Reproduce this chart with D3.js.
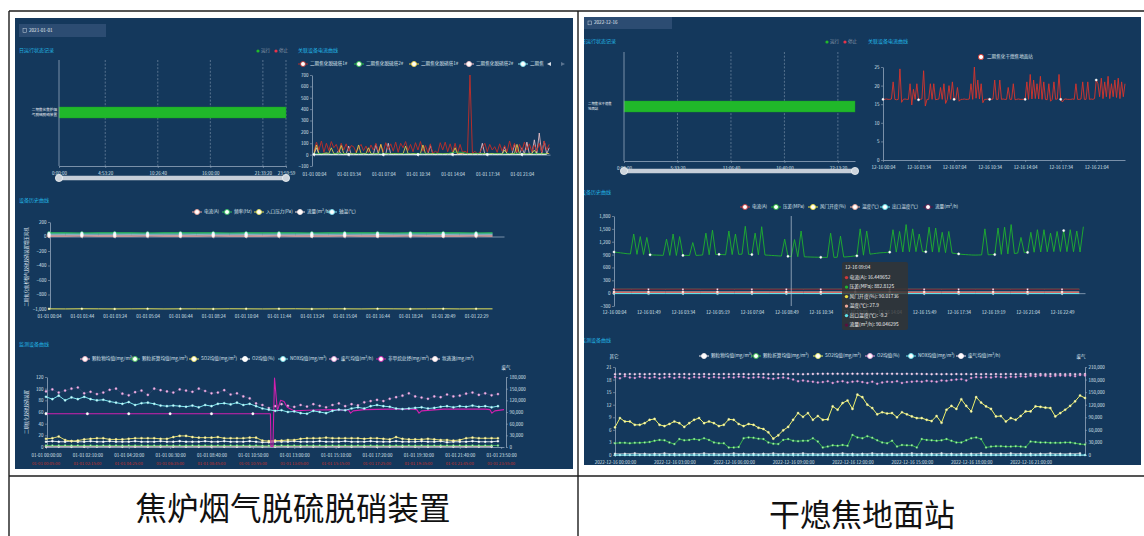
<!DOCTYPE html>
<html><head><meta charset="utf-8">
<script src="https://cdn.jsdelivr.net/npm/d3@7/dist/d3.min.js"></script>
<style>html,body{margin:0;padding:0;background:#fff;}svg{display:block}</style>
</head><body>
<svg id="c" width="1144" height="536"></svg>
<script>
// ================= DATA =================
const runLegend = ['运行','停止'];
const runColors = ['#22b82a','#e8334a'];

// ---------- Left block: 焦炉烟气脱硫脱硝装置 ----------
const L_caption = '焦炉烟气脱硫脱硝装置';
const L_date = '2021-01-01';
const L_titles = ['日运行状态记录','关联设备电流曲线','设备历史曲线','监测设备曲线'];
const L_ganttName = ['二期焦化焦炉烟','气脱硫脱硝装置'];
const L_ganttTickSec = [0,17600,37600,57600,77600,86399];
const L_ganttTickLab = ['0:00:00','4:53:20','10:26:40','16:00:00','21:33:20','23:59:59'];
const L_runSeg = [[0,86399]];

const L_curNames = ['二期焦化脱硫塔1#','二期焦化脱硫塔2#','二期焦化脱硝塔1#','二期焦化脱硝塔2#','二期焦'];
const L_curColors = ['#b32e2c','#2ec24a','#f0d54a','#f2c4ca','#86e6f0'];
const L_curTickMin = [4,214,424,634,844,1054,1264];
const L_curTickLab = ['01-01 00:04','01-01 03:34','01-01 07:04','01-01 10:34','01-01 14:04','01-01 17:34','01-01 21:04'];
const L_curYTicks = [-100,0,100,200,300,400,500,600,700];
const L_curRed = [30,110,40,120,20,100,35,115,60,90,25,100,40,95,30,80,70,20,60,90,
 35,75,20,85,40,100,30,90,25,105,45,95,30,110,20,100,60,115,35,90,
 25,105,40,115,30,80,20,95,10,30,15,105,40,110,25,95,20,100,10,90,
 20,30,15,700,10,30,5,20,60,100,25,90,40,70,20,95,30,80,25,120,
 35,100,20,90,30,110,40,95,25,85,30,100,20,120,40,90];
const L_curYellow = [10,85,10,5,10,15,10,60,10,5,10,80,10,5,10,10,5,10,85,10,
 5,10,60,10,5,10,10,90,5,10,10,5,10,10,5,10,10,75,10,5,
 10,10,5,10,85,10,5,10,10,5,10,10,5,10,10,5,10,60,5,10,
 10,5,10,10,5,10,10,5,10,10,5,10,10,5,10,10,5,40,10,5,
 10,10,90,5,10,10,5,10,10,40,5,10,10,5,10,10];
const L_curPink = [5,60,5,0,5,10,5,0,5,5,40,5,0,5,75,5,5,0,5,5,
 10,5,0,5,5,90,5,0,5,5,100,5,0,5,5,5,0,5,10,5,
 5,0,5,5,5,0,5,80,5,0,5,5,5,0,5,10,5,0,5,5,
 5,0,5,5,5,0,5,5,100,5,0,5,10,5,0,5,5,70,5,0,
 5,90,5,0,60,5,110,5,0,130,5,190,5,120,5,60];
const L_curGreen = [5,10,6,8,5,12,6,8,5,10,6,8,5,10,6,9,5,10,6,8,5,11,6,8,5,10,6,8,20,22,20,8,5,10,6,8,5,10,6,8,5,10,6,8,5,10,6,8];
const L_curCyan = [2,1,2,2,1,2,1,2,2,1,2,1,2,2,1,2,1,2,2,1,2,1,2,2,1,2,1,2,2,1,2,1,2,2,1,2,1,2,2,1,2,1,2,2,1,2,1,2];

const L_histNames = ['电流(A)','频率(Hz)','入口压力(Pa)','流量(m³/h)','轴温(℃)'];
const L_histColors = ['#f0a49a','#2fc25b','#e6e35a','#f6e4e4','#7ee0f0'];
const L_histYName = '二期焦化焦炉烟气脱硫脱硝装置增压风机';
const L_histTickLab = ['01-01 00:04','01-01 01:44','01-01 03:24','01-01 05:04','01-01 06:44','01-01 08:24','01-01 10:04','01-01 11:44','01-01 13:24','01-01 15:04','01-01 16:44','01-01 18:24','01-01 20:49','01-01 22:29'];
const L_histYTicks = [-1000,-800,-600,-400,-200,0,200];
const L_histCur = [5,5,6,5,5,5,6,5,5,5,6,5,5,5,6,5,5,5,6,5,5,5,6,5,5,5,6,5];
const L_histFreq = [50,50,49,50,50,50,49,50,50,50,50,49,50,50,50,50,49,50,50,50,50,49,50,50,50,50,49,50];
const L_histPress = [-998,-999,-997,-998,-999,-998,-997,-999,-998,-998,-999,-997,-998,-999,-998,-997,-999,-998,-998,-999,-997,-998,-999,-998,-997,-999,-998,-998];
const L_histFlow = [20,21,20,19,20,21,20,20,19,21,20,20,21,19,20,20,21,20,19,20,21,20,20,19,21,20,20,21];
const L_histTemp = [36,36,35,36,36,36,35,36,36,35,36,36,36,35,36,36,36,35,36,36,35,36,36,36,35,36,36,36];

const L_monNames = ['颗粒物均值(mg/m³)','颗粒折算均值(mg/m³)','SO2均值(mg/m³)','O2均值(%)','NOX均值(mg/m³)','废气均值(m³/h)','非甲烷总烃(mg/m³)','氨逃逸(mg/m³)'];
const L_monColors = ['#f3b6c6','#4cc85a','#efe46a','#ffffff','#7fe6ee','#e7a2da','#d01fae','#f6dce4'];
const L_monYName = '二期焦化脱硫脱硝装置';
const L_monTickMin = [0,130,260,390,520,650,780,910,1040,1170,1300,1430];
const L_monTickLab = ['01-01 00:00:00','01-01 02:10:00','01-01 04:20:00','01-01 06:30:00','01-01 08:40:00','01-01 10:50:00','01-01 13:00:00','01-01 15:10:00','01-01 17:20:00','01-01 19:30:00','01-01 21:40:00','01-01 23:50:00'];
const L_monRedLab = ['01-01 00:05:00','01-01 02:15:00','01-01 04:25:00','01-01 06:35:00','01-01 08:45:00','01-01 10:55:00','01-01 13:05:00','01-01 15:15:00','01-01 17:25:00','01-01 19:35:00','01-01 21:45:00','01-01 23:55:00'];
const L_monYTicks = [0,20,40,60,80,100,120];
const L_monY2Ticks = [0,30000,60000,90000,120000,150000,180000];
const L_monGas = [143000,148000,140000,145000,150000,153000,138000,142000,136000,140000,
 147000,150000,137000,133000,141000,145000,134000,150000,146000,143000,
 140000,148000,145000,142000,150000,144000,138000,140000,146000,135000,
 138000,130000,125000,112000,108000,100000,105000,110000,106000,103000,
 108000,104000,110000,106000,102000,108000,112000,105000,110000,107000,
 115000,118000,121000,118000,124000,128000,132000,138000,130000,127000,
 124000,130000,128000,135000,130000,132000,137000,140000,134000,138000,
 133000,136000];
const L_monNox = [86,82,88,80,85,82,86,82,80,81,78,76,74,77,72,75,76,74,71,70,71,70,69,71,68,72,70,74,75,73,76,72,74,
 70,66,64,62,63,60,61,58,57,62,60,58,62,64,63,66,68,66,70,72,70,69,66,65,66,67,68,66,67,69,70,68,70,69,71,69,70,68,70];
const L_monSo2 = [14,15,18,12,10,11,13,14,15,15,
 13,13,13,14,15,15,15,15,14,14,
 17,19,19,17,16,16,16,17,15,15,
 15,15,16,16,11,10,11,11,12,12,
 14,15,15,15,16,15,15,15,15,15,
 14,15,15,14,13,17,14,13,13,13,
 14,13,12,12,11,12,15,16,15,15,
 15,15];
const L_monO2 = [9,10,9,9,10,9,9,10,9,9,
 10,9,9,9,10,9,9,9,10,9,
 9,10,9,9,9,10,9,9,10,9,
 9,9,10,9,8,8,9,9,9,10,
 9,9,9,10,9,9,9,10,9,9,
 9,10,9,9,9,10,9,9,9,10,
 9,9,10,8,9,9,9,10,9,9,
 9,10];
const L_monPmc = [2.6,2.4,2.5,2.7,2.4,2.5,2.6,2.5,2.3,2.5,
 2.6,2.5,2.4,2.5,2.7,2.6,2.5,2.4,2.5,2.6,
 2.5,2.4,2.6,2.5,2.5,2.7,2.6,2.4,2.5,2.5,
 2.6,2.5,2.4,2.5,2.1,2.0,2.3,2.5,2.6,2.5,
 2.5,2.6,2.5,2.4,2.5,2.6,2.7,2.5,2.4,2.5,
 2.6,2.5,2.5,2.4,2.5,2.6,2.5,2.5,2.4,2.6,
 2.5,2.5,2.6,2.4,2.5,2.5,2.6,2.5,2.4,2.5,
 2.6,2.5];
const L_monPm = [1.2,1.3,1.2,1.1,1.2,1.3,1.2,1.2,1.1,1.2,1.3,1.2,1.2,1.1,1.2,1.3,1.2,1.2,1.1,1.2,1.3,1.2,1.2,1.1,1.2,1.3,1.2,1.2,1.1,1.2,1.3,1.2,1.2,1.1,1.2,1.3];
const L_monNh3 = [0.4,0.5,0.4,0.4,0.5,0.4,0.4,0.5,0.4,0.4,0.5,0.4,0.4,0.5,0.4,0.4,0.5,0.4,0.4,0.5,0.4,0.4,0.5,0.4,0.4,0.5,0.4,0.4,0.5,0.4,0.4,0.5,0.4,0.4,0.5,0.4];
const L_monNmhcMin = [0,130,260,390,520,650,705,707,713,718,727,737,748,758,779,820,900,940,950,957,965,1000,1080,1150,1165,1172,1180,1250,1330,1380,1395,1401,1410,1439];
const L_monNmhc = [57,57,57,57,57,57,57,1,1,118,62,80,78,68,62,63,64,63,64,58,62,64,65,65,64,58,62,65,65,65,64,58,62,64];

// ---------- Right block: 干熄焦地面站 ----------
const R_caption = '干熄焦地面站';
const R_date = '2022-12-16';
const R_titles = ['日运行状态记录','关联设备电流曲线','设备历史曲线','监测设备曲线'];
const R_ganttName = ['二期焦化干熄焦','地面站'];
const R_ganttTickSec = [0,20000,40000,60000,80000];
const R_ganttTickLab = ['0:00:00','5:33:20','11:06:40','16:40:00','22:13:20'];
const R_runSeg = [[0,86399]];

const R_curName = '二期焦化干熄焦地面站';
const R_curTickMin = [4,214,424,634,844,1054,1264];
const R_curTickLab = ['12-16 00:04','12-16 03:34','12-16 07:04','12-16 10:34','12-16 14:04','12-16 17:34','12-16 21:04'];
const R_curYTicks = [0,5,10,15,20,25];
const R_cur = [16.3,16.3,16.4,16.3,16.3,16.4,21,16.3,16.2,16.3,24.5,15.5,
 16.3,16.4,16.3,16.3,20.5,14.8,19,16.3,20.5,16.2,16.3,16.4,
 24,14.5,16.3,16.3,20.5,16.3,20.5,16.2,16.3,16.4,19.5,16.3,
 20.5,15.2,16.3,20,16.3,21,16.3,16.3,19.5,15.8,16.3,16.3,
 16.4,16.3,16.3,16.4,20.5,16.3,25,16.6,21.5,16.4,20.5,15.4,
 16.3,16.3,16.4,16.3,16.3,16.4,21.5,16.3,16.3,21.5,16.3,16.4,
 16.3,16.3,19.5,16.3,16.3,20.5,16.2,16.3,16.4,16.3,16.3,16.3,
 16.3,21,16.3,23,16.4,21.5,16.5,20.5,16.4,22.5,16.3,21,
 16.3,16.2,20.5,15.8,16.3,21,16.3,16.4,23,16.3,15.6,16.3,
 16.4,16.3,16.3,16.3,16.4,16.3,20.5,16.3,16.3,16.4,21,16.3,
 16.3,21,16.3,16.4,16.3,16.5,21.5,20.5,17,22,16.5,21,
 17,22.5,16.5,20.5,17,21.5,16.8,22,16.5,21,17,20.5];

const R_histNames = ['电流(A)','压差(MPa)','风门开度(%)','温度(℃)','出口温度(℃)','流量(m³/h)'];
const R_histColors = ['#d0383a','#1fb22e','#f0e040','#f0a898','#5fe3ea','#5a1040'];
const R_histTickMin = [4,109,214,319,424,529,634,739,844,949,1054,1159,1264,1369];
const R_histTickLab = ['12-16 00:04','12-16 01:49','12-16 03:34','12-16 05:19','12-16 07:04','12-16 08:49','12-16 10:34','12-16 12:19','12-16 14:04','12-16 15:49','12-16 17:34','12-16 19:19','12-16 21:04','12-16 22:49'];
const R_histYTicks = [-300,0,300,600,900,1200,1500,1800];
const R_histPress = [960,950,940,930,920,915,1380,905,1320,900,1300,895,
 890,888,885,882,1260,880,1380,878,1320,880,882,878,
 1180,880,885,890,1400,895,1470,900,905,900,895,1450,
 900,1380,905,910,1560,905,900,1400,895,1550,890,885,
 880,875,870,865,1260,860,855,1250,850,1450,848,845,
 842,840,838,836,835,834,1400,835,838,1330,842,848,
 855,865,870,1500,885,1450,910,920,930,940,945,950,
 955,1480,958,1440,960,1600,965,1500,968,1380,970,965,
 1540,960,1520,955,1420,945,1440,935,925,915,905,900,
 895,890,888,890,892,1500,895,898,900,1520,905,1540,
 915,1600,925,935,1300,945,950,1420,955,1480,960,1480,
 965,1400,968,1440,970,1460,968,1480,965,1450,960,1550];
const R_histCur = [16.4,16.3,16.5,16.2,16.4,16.6,16.3,16.4,16.5,16.3,16.4,16.2,16.5,16.4,16.3,16.6,16.4,16.3,16.5,16.4,16.2,16.4,16.5,16.3,16.4,16.6,16.3,16.4];
const R_histDamper = [90.0,90.1,89.9,90.0,90.2,90.0,89.8,90.0,90.1,90.0,89.9,90.0,90.2,90.1,90.0,89.9,90.0,90.1,90.0,89.8,90.0,90.1,90.0,89.9,90.0,90.2,90.0,90.1];
const R_histTemp = [27.5,27.8,28.0,27.6,27.9,28.2,27.7,27.9,28.1,27.8,27.6,27.9,28.0,27.7,27.9,28.1,27.8,27.6,27.9,28.0,27.7,27.9,28.1,27.8,27.6,27.9,28.0,27.8];
const R_histOut = [-9.0,-9.2,-8.8,-9.1,-9.3,-9.0,-8.9,-9.2,-9.1,-9.0,-9.3,-8.8,-9.1,-9.2,-9.0,-8.9,-9.1,-9.2,-9.0,-9.3,-8.9,-9.1,-9.0,-9.2,-8.8,-9.1,-9.0,-9.2];
const R_histFlow = [90.1,90.0,89.8,90.2,90.0,90.1,89.9,90.0,90.2,90.0,89.9,90.1,90.0,89.8,90.2,90.0,90.1,89.9,90.0,90.2,90.0,89.9,90.1,90.0,89.8,90.2,90.0,90.1];
const R_tipTime = '12-16 09:04';
const R_tipMin = 544;
const R_tipVals = ['16.449652','882.8125','90.01736','27.9','-9.2','90.046295'];

const R_monNames = ['颗粒物均值(mg/m³)','颗粒折算均值(mg/m³)','SO2均值(mg/m³)','O2均值(%)','NOX均值(mg/m³)','废气均值(m³/h)'];
const R_monColors = ['#f6eef0','#3cc04a','#eef06a','#eca6de','#6fe6f0','#faeaf6'];
const R_monTickMin = [0,180,360,540,720,900,1080,1260];
const R_monTickLab = ['2022-12-16 00:00:00','2022-12-16 03:00:00','2022-12-16 06:00:00','2022-12-16 09:00:00','2022-12-16 12:00:00','2022-12-16 15:00:00','2022-12-16 18:00:00','2022-12-16 21:00:00'];
const R_monYTicks = [0,3,6,9,12,15,18,21];
const R_monY2Ticks = [0,30000,60000,90000,120000,150000,180000,210000];
const R_monSo2 = [6.6,8.8,8.0,8.0,7.2,7.2,7.6,8.4,8.6,7.2,
 6.9,7.4,8.0,7.6,6.7,7.6,8.4,8.8,7.6,8.0,
 7.6,6.9,7.2,8.5,8.4,7.4,6.9,7.4,7.2,6.5,
 6.2,5.4,3.9,4.7,5.9,6.7,8.4,10,9.1,10,
 8.4,9.3,8.4,8.5,11.6,10.8,12.4,13,11,14.4,
 13.8,12,11.2,9.7,10.2,9.9,10,9,10.2,9.7,
 9.2,8.8,8.8,8.4,8.1,9.3,7.7,10.8,11.7,11,
 13.3,11.7,10.4,13.8,12.5,11.6,11,9.2,9.3,8.0,
 8.8,8.4,9.3,10.4,10.4,11.6,11.5,11.3,11.2,9.2,
 10,10.8,11.7,12.8,14.2,13.6];
const R_monPmc = [2.8,2.9,2.9,2.8,2.9,2.9,3.0,3.1,3.4,3.6,
 3.5,3.0,2.6,3.8,3.5,3.6,3.8,3.6,4.0,3.6,
 3.0,2.8,2.8,1.8,1.8,1.9,4.0,4.2,4.1,3.9,
 3.8,3.0,2.7,2.6,3.6,3.8,3.4,3.3,3.4,3.4,
 4.0,3.2,1.8,2.0,2.3,2.2,2.4,2.2,4.8,4.2,
 4.0,4.5,4.1,3.5,3.0,2.8,3.4,2.0,2.4,2.3,
 2.3,1.8,3.8,3.6,3.5,3.4,3.5,3.8,3.4,3.0,
 3.0,3.5,4.0,4.2,3.8,1.8,2.0,2.1,2.1,2.0,
 2.0,2.1,2.0,1.9,3.2,3.1,3.0,3.0,2.9,2.9,
 2.9,3.0,3.0,2.8,2.6,2.5];
const R_monO2 = [18.6,18.3,18.8,18.5,18.4,18.7,18.5,18.4,18.6,18.3,
 18.5,18.7,18.4,18.6,18.5,18.3,18.6,18.5,18.7,18.4,
 18.6,18.5,18.4,18.6,18.5,18.7,18.6,18.4,18.5,18.6,
 18.5,18.3,18.2,18.4,18.5,18.3,18.0,17.6,17.8,17.6,
 17.5,17.3,17.4,17.6,17.2,17.5,17.6,17.3,17.5,17.6,
 17.4,17.2,17.5,17.0,17.3,17.5,17.4,17.6,17.2,17.4,
 17.5,17.6,17.5,17.7,17.6,17.5,17.8,17.7,17.9,18.0,
 18.1,17.8,18.4,18.6,18.5,18.6,18.5,18.7,18.6,18.5,
 18.7,18.6,18.8,18.7,18.9,18.8,19.0,18.9,18.8,18.9,
 19.0,18.9,19.0,18.8,19.1,19.0];
const R_monGas = [192800,193400,192600,193100,192900,193300,192700,193000,193200,192500,
 193100,192800,193300,192600,193000,192900,193200,192700,193100,192800,
 193000,192600,193300,192900,193100,192700,193200,192800,193000,192600,
 193100,192900,193300,192700,193000,192800,193400,193100,192900,193200,
 193500,193800,193600,194000,193700,193900,193600,193800,194000,193700,
 193900,193600,193800,194100,193700,193900,193600,193800,193500,193700,
 193400,193600,193300,193100,192900,193200,192800,193000,192700,193100,
 192900,193000,192800,193200,192900,193100,192700,193000,192900,193200,
 193000,192800,193100,192900,193200,192700,193000,192800,193100,192900,
 193000,192800,193200,192900,193100,193000];
const R_monNox = [0,0,0,0,0,0,0,0,0,0,0,0,0,0,0,0,0,0,0,0,0,0,0,0,
 0,0,0,0,0,0,0,0,0,0,0,0,0,0,0,0,0,0,0,0,0,0,0,0,
 0,0,0,0,0,0,0,0,0,0,0,0,0,0,0,0,0,0,0,0,0,0,0,0,
 0,0,0,0,0,0,0,0,0,0,0,0,0,0,0,0,0,0,0,0,0,0,0,0];
const R_monPm = [0.3,0.3,0.4,0.3,0.3,0.4,0.3,0.3,0.3,0.4,0.3,0.3,0.4,0.3,0.3,0.3,0.4,0.3,0.3,0.4,0.3,0.3,0.3,0.4,
 0.3,0.3,0.4,0.3,0.3,0.3,0.4,0.3,0.3,0.4,0.3,0.3,0.3,0.4,0.3,0.3,0.4,0.3,0.3,0.3,0.4,0.3,0.3,0.4];

// ================= DRAWING =================
const NAVY='#14385c', CYAN='#22b6e4', TXT='#dde5ee', AX='#93a7bc';
const FONT='"Noto Sans CJK SC","Noto Sans",sans-serif';
const FS_T=5, FS_L=4.6, FS_A=4.5;
const svg=d3.select('#c').attr('font-family',FONT);
const fmtC=d3.format(',');

svg.append('rect').attr('width',1144).attr('height',536).attr('fill','#fff');

function txt(g,x,y,s,o={}){
  return g.append('text').attr('x',x).attr('y',y).text(s)
    .attr('font-size',o.size||FS_A).attr('fill',o.fill||TXT)
    .attr('text-anchor',o.anchor||'start').attr('dominant-baseline','middle')
    .attr('font-family',FONT);
}
function vtext(g,x,y,s,size){
  g.append('text').attr('transform',`translate(${x},${y}) rotate(-90)`)
   .attr('text-anchor','middle').attr('dominant-baseline','middle')
   .attr('font-size',size).attr('fill',TXT).attr('font-family',FONT).text(s);
}
function styleAxis(a){
  a.attr('font-size',FS_A).attr('font-family',FONT);
  a.selectAll('text').attr('fill',TXT).attr('font-size',FS_A).attr('font-family',FONT);
  a.selectAll('.tick line').attr('stroke',AX).attr('stroke-width',0.6);
  a.select('.domain').attr('stroke',AX).attr('stroke-width',0.8);
  return a;
}
function yAxisL(g,scale,x,ticks,fmt){
  return styleAxis(g.append('g').attr('transform',`translate(${x},0)`)
    .call(d3.axisLeft(scale).tickValues(ticks).tickFormat(fmt).tickSize(2).tickSizeOuter(0).tickPadding(1.5)));
}
function yAxisR(g,scale,x,ticks,fmt){
  return styleAxis(g.append('g').attr('transform',`translate(${x},0)`)
    .call(d3.axisRight(scale).tickValues(ticks).tickFormat(fmt).tickSize(2).tickSizeOuter(0).tickPadding(1.5)));
}
function xAxisB(g,scale,lineY,labelY,ticks,labels){
  return styleAxis(g.append('g').attr('transform',`translate(0,${lineY})`)
    .call(d3.axisBottom(scale).tickValues(ticks).tickFormat((d,i)=>labels[i]).tickSize(2).tickSizeOuter(0).tickPadding(labelY-lineY-3.6)));
}
function legend(g,items,y){
  items.forEach(it=>{
    g.append('line').attr('x1',it.x-5).attr('x2',it.x+5).attr('y1',y).attr('y2',y).attr('stroke',it.color).attr('stroke-width',1);
    g.append('circle').attr('cx',it.x).attr('cy',y).attr('r',2.5).attr('fill','#fff').attr('stroke',it.color).attr('stroke-width',0.9);
    txt(g,it.x+7,y,it.label,{size:FS_L});
  });
}
function series(g,x,y,times,vals,color,o={}){
  const pts=vals.map((v,i)=>({t:times[i],v,i}));
  g.append('path').datum(pts).attr('fill','none').attr('stroke',color)
   .attr('stroke-width',o.w||0.8).attr('stroke-opacity',o.op===undefined?1:o.op)
   .attr('stroke-linejoin','round')
   .attr('d',d3.line().x(d=>x(d.t)).y(d=>y(d.v)));
  if(o.mark){
    g.selectAll(null).data(pts.filter(o.mark)).join('circle')
     .attr('cx',d=>x(d.t)).attr('cy',d=>y(d.v)).attr('r',o.r||1)
     .attr('fill',o.mfill||'#fff').attr('stroke',o.mstroke||color).attr('stroke-width',0.4);
  }
}
const times=(n,start,step)=>d3.range(n).map(i=>start+i*step);

function dateBox(g,x,y,w,h,s){
  g.append('rect').attr('x',x).attr('y',y).attr('width',w).attr('height',h).attr('fill','#2c4c72');
  g.append('rect').attr('x',x+4).attr('y',y+h/2-2).attr('width',3.6).attr('height',3.8).attr('fill','none').attr('stroke','#c8d2de').attr('stroke-width',0.5);
  txt(g,x+10,y+h/2,s,{size:4.6,fill:'#e6ecf2'});
}
function runLeg(g,x,y){
  g.append('circle').attr('cx',x).attr('cy',y).attr('r',1.6).attr('fill',runColors[0]);
  txt(g,x+3,y,runLegend[0],{size:4.6,fill:'#8c9aab'});
  g.append('circle').attr('cx',x+18).attr('cy',y).attr('r',1.6).attr('fill',runColors[1]);
  txt(g,x+21,y,runLegend[1],{size:4.6,fill:'#8c9aab'});
}
function drawGantt(g,o){
  const x=d3.scaleLinear().domain([0,86400]).range([o.x0,o.x1]);
  g.selectAll(null).data(o.ticks.slice(1)).join('line')
   .attr('x1',d=>x(d)).attr('x2',d=>x(d)).attr('y1',o.top).attr('y2',o.bot)
   .attr('stroke','#8fa4ba').attr('stroke-width',0.55).attr('stroke-dasharray','2,1.6');
  g.selectAll(null).data(o.seg).join('rect')
   .attr('x',d=>x(d[0])).attr('width',d=>x(d[1])-x(d[0])).attr('y',o.barY).attr('height',o.barH)
   .attr('fill','#20b82a').attr('stroke','#1a9a24').attr('stroke-width',0.4);
  xAxisB(g,x,o.bot,o.bot+7,o.ticks,o.labels);
  g.append('line').attr('x1',o.x0).attr('x2',o.x0).attr('y1',o.top).attr('y2',o.bot).attr('stroke',AX).attr('stroke-width',0.8);
  o.name.forEach((s,i)=>txt(g,o.nameX,o.nameY+i*o.nameDy,s,{size:o.nameSize,anchor:o.nameAnchor,fill:'#eef2f6'}));
  g.append('rect').attr('x',o.x0).attr('y',o.sy-2.2).attr('width',o.x1-o.x0).attr('height',4.4).attr('rx',2.2).attr('fill','#c6ced8');
  [o.x0,o.x1].forEach(cx=>g.append('circle').attr('cx',cx).attr('cy',o.sy).attr('r',3.6).attr('fill','#cdd4dc').attr('stroke','#eef1f4').attr('stroke-width',0.8));
}

// ---- table frame & captions ----
[[9,11,1144,11],[9,11,9,536],[578,11,578,536],[9,476,1144,476]].forEach(d=>
  svg.append('line').attr('x1',d[0]).attr('y1',d[1]).attr('x2',d[2]).attr('y2',d[3]).attr('stroke','#1c1c1c').attr('stroke-width',1.4));
svg.append('text').attr('x',293).attr('y',520).attr('text-anchor','middle').attr('font-size',31.5).attr('fill','#111').attr('font-family',FONT).text(L_caption);
svg.append('text').attr('x',862).attr('y',526).attr('text-anchor','middle').attr('font-size',31).attr('fill','#111').attr('font-family',FONT).text(R_caption);

// ================= LEFT PANEL =================
const gL=svg.append('g');
gL.append('rect').attr('x',15).attr('y',18).attr('width',558).attr('height',451).attr('fill',NAVY);
dateBox(gL,19,24,87,13,L_date);
txt(gL,19,51,L_titles[0],{size:FS_T,fill:CYAN});
runLeg(gL,258,51);
drawGantt(gL,{x0:59,x1:286,top:60,bot:166,barY:107,barH:11,ticks:L_ganttTickSec,labels:L_ganttTickLab,seg:L_runSeg,
  name:L_ganttName,nameX:57,nameY:110.5,nameDy:4.6,nameSize:3.6,nameAnchor:'end',sy:178});

// current chart
txt(gL,298,51,L_titles[1],{size:FS_T,fill:CYAN});
legend(gL,[303,359,414,469,523].map((x,i)=>({x,color:L_curColors[i],label:L_curNames[i]})),64);
gL.append('path').attr('d','M551,62 L547,64 L551,66 Z').attr('fill','#d8dee6');
gL.append('path').attr('d','M561,62 L565,64 L561,66 Z').attr('fill','#5a7390');
{
  const x=d3.scaleLinear().domain([4,1434]).range([314,550]);
  const y=d3.scaleLinear().domain([-100,700]).range([166,75]);
  yAxisL(gL,y,312,L_curYTicks,fmtC);
  xAxisB(gL,x,y(0),174,L_curTickMin,L_curTickLab);
  const t96=times(96,4,15), t48=times(48,4,30);
  series(gL,x,y,t96,L_curPink,L_curColors[3],{w:0.8});
  series(gL,x,y,t96,L_curRed,L_curColors[0],{w:1});
  series(gL,x,y,t96,L_curYellow,L_curColors[2],{w:0.8});
  series(gL,x,y,t48,L_curGreen,L_curColors[1],{w:0.8});
  series(gL,x,y,t48,L_curCyan,'#eaf4f6',{w:0.9,mark:d=>(d.t-4)%210===0,r:1.2});
}

// history chart
txt(gL,19,201,L_titles[2],{size:FS_T,fill:CYAN});
legend(gL,[197,227,259,300,332].map((x,i)=>({x,color:L_histColors[i],label:L_histNames[i]})),212);
{
  const x=d3.scaleLinear().domain([0,277]).range([49,504]);
  const y=d3.scaleLinear().domain([-1000,200]).range([309,222]);
  yAxisL(gL,y,50,L_histYTicks,fmtC);
  xAxisB(gL,x,y(0),316,d3.range(14).map(i=>i*20),L_histTickLab);
  vtext(gL,27,267,L_histYName,4.4);
  const t=times(28,0,10);
  const mk=d=>d.t%20===0;
  series(gL,x,y,t,L_histPress,L_histColors[2],{w:1,mark:mk,r:1});
  series(gL,x,y,t,L_histFlow,L_histColors[3],{w:1});
  series(gL,x,y,t,L_histTemp,L_histColors[4],{w:1});
  series(gL,x,y,t,L_histFreq,L_histColors[1],{w:1.1,mark:mk,r:1.5});
  series(gL,x,y,t,L_histCur,L_histColors[0],{w:1.1,mark:mk,r:1.5});
  series(gL,x,y,t,L_histTemp,L_histColors[4],{w:0,op:0,mark:mk,r:1.5});
  series(gL,x,y,t,L_histFlow,L_histColors[3],{w:0,op:0,mark:mk,r:1.5});
}

// monitoring chart
txt(gL,19,345,L_titles[3],{size:FS_T,fill:CYAN});
legend(gL,[85,135,194,245,283,334,381,435].map((x,i)=>({x,color:L_monColors[i],label:L_monNames[i]})),359);
{
  const x=d3.scaleLinear().domain([0,1439]).range([46,504]);
  const y=d3.scaleLinear().domain([0,120]).range([447,377]);
  const y2=d3.scaleLinear().domain([0,180000]).range([447,377]);
  yAxisL(gL,y,47,L_monYTicks,fmtC);
  yAxisR(gL,y2,506,L_monY2Ticks,fmtC);
  xAxisB(gL,x,447,455,L_monTickMin,L_monTickLab);
  gL.selectAll(null).data(L_monTickMin).join('text')
    .attr('x',d=>x(d)).attr('y',464).attr('text-anchor','middle').attr('dominant-baseline','middle')
    .attr('font-size',4.2).attr('fill','#c8302a').attr('font-family',FONT).text((d,i)=>L_monRedLab[i]);
  txt(gL,506,368,'废气',{size:FS_A,anchor:'middle'});
  vtext(gL,27,412,L_monYName,4.4);
  const t72=times(72,0,20), t36=times(36,0,40);
  const all=()=>true;
  series(gL,x,y2,t72,L_monGas,L_monColors[5],{w:0.5,op:0.25,mark:all,r:1.1,mfill:'#f2c2ea',mstroke:'#d77fc8'});
  series(gL,x,y,t36,L_monNh3,L_monColors[7],{w:0.7,mark:all,r:0.9});
  series(gL,x,y,t36,L_monPm,L_monColors[0],{w:0.7,mark:all,r:0.9});
  series(gL,x,y,t72,L_monPmc,L_monColors[1],{w:0.8,mark:all,r:1,mfill:'#b8f0c0'});
  series(gL,x,y,t72,L_monO2,L_monColors[3],{w:0.8,mark:all,r:1});
  series(gL,x,y,t72,L_monSo2,L_monColors[2],{w:0.9,mark:all,r:1.1,mfill:'#fbf6c8'});
  series(gL,x,y,L_monNmhcMin,L_monNmhc,L_monColors[6],{w:1.1,mark:d=>L_monTickMin.indexOf(d.t)>=0,r:1.2,mstroke:'#ffffff'});
  series(gL,x,y,t72,L_monNox,L_monColors[4],{w:1,mark:all,r:1.1,mfill:'#d8fafc'});
}

// ================= RIGHT PANEL =================
svg.append('defs').append('clipPath').attr('id','clipR').append('rect').attr('x',584).attr('y',17).attr('width',557).attr('height',448);
const gR=svg.append('g').attr('clip-path','url(#clipR)');
gR.append('rect').attr('x',584).attr('y',17).attr('width',557).attr('height',448).attr('fill',NAVY);
dateBox(gR,584,17,88,12,R_date);
txt(gR,581,42,R_titles[0],{size:FS_T,fill:CYAN});
runLeg(gR,827,42);
drawGantt(gR,{x0:624,x1:855,top:52,bot:161,barY:101,barH:11,ticks:R_ganttTickSec,labels:R_ganttTickLab,seg:R_runSeg,
  name:R_ganttName,nameX:588,nameY:104,nameDy:4.8,nameSize:3.4,nameAnchor:'start',sy:171});

// current chart
txt(gR,868,42,R_titles[1],{size:FS_T,fill:CYAN});
gR.append('circle').attr('cx',981).attr('cy',57).attr('r',2.6).attr('fill','#fff').attr('stroke','#d9342b').attr('stroke-width',0.9);
txt(gR,987,57,R_curName,{size:FS_L});
{
  const x=d3.scaleLinear().domain([4,1434]).range([883,1125]);
  const y=d3.scaleLinear().domain([0,25]).range([160,67]);
  yAxisL(gR,y,883,R_curYTicks,fmtC);
  xAxisB(gR,x,160,167.5,R_curTickMin,R_curTickLab);
  series(gR,x,y,times(144,4,10),R_cur,'#d9342b',{w:0.9,mark:d=>d.i%21===0,r:1.1,mstroke:'#fff'});
}

// history chart
txt(gR,581,193,R_titles[2],{size:FS_T,fill:CYAN});
legend(gR,[745,776,813,855,885,928].map((x,i)=>({x,color:R_histColors[i],label:R_histNames[i]})),207);
{
  const x=d3.scaleLinear().domain([4,1439]).range([614,1085]);
  const y=d3.scaleLinear().domain([-300,1800]).range([306,216]);
  yAxisL(gR,y,614,R_histYTicks,fmtC);
  xAxisB(gR,x,y(0),312,R_histTickMin,R_histTickLab);
  const tl=times(28,4,52.5);
  const mk=d=>d.i%2===0;
  series(gR,x,y,tl,R_histOut,R_histColors[4],{w:1,mark:mk,r:1.1});
  series(gR,x,y,tl,R_histCur,R_histColors[0],{w:1,mark:mk,r:1.1});
  series(gR,x,y,tl,R_histTemp,R_histColors[3],{w:1,mark:mk,r:1.1});
  series(gR,x,y,tl,R_histDamper,R_histColors[2],{w:0.8});
  series(gR,x,y,tl,R_histFlow,R_histColors[5],{w:1,mark:mk,r:1.1});
  series(gR,x,y,times(144,4,10),R_histPress,R_histColors[1],{w:0.9,
    mark:d=>R_histTickMin.some(tt=>d.t-tt>=0&&d.t-tt<10),r:1.1,mstroke:'#fff'});
  // cursor + tooltip
  const cx=x(R_tipMin);
  gR.append('line').attr('x1',cx).attr('x2',cx).attr('y1',216).attr('y2',306).attr('stroke','#b8c6d4').attr('stroke-width',0.7);
  const tg=gR.append('g');
  tg.append('rect').attr('x',842).attr('y',262).attr('width',66).attr('height',68).attr('rx',2).attr('fill','rgba(52,52,52,0.82)');
  txt(tg,845,267.7,R_tipTime,{size:4.8,fill:'#f2f2f2'});
  R_histNames.forEach((n,i)=>{
    const yy=277.6+i*9.5;
    tg.append('circle').attr('cx',846.5).attr('cy',yy).attr('r',1.7).attr('fill',R_histColors[i]);
    txt(tg,849.5,yy,n+': '+R_tipVals[i],{size:4.8,fill:'#f2f2f2'});
  });
}

// monitoring chart
txt(gR,581,341,R_titles[3],{size:FS_T,fill:CYAN});
legend(gR,[704,756,818,870,911,961].map((x,i)=>({x,color:R_monColors[i],label:R_monNames[i]})),356);
{
  const x=d3.scaleLinear().domain([0,1425]).range([615,1085]);
  const y=d3.scaleLinear().domain([0,21]).range([455,367]);
  const y2=d3.scaleLinear().domain([0,210000]).range([455,367]);
  yAxisL(gR,y,615,R_monYTicks,fmtC);
  yAxisR(gR,y2,1085,R_monY2Ticks,fmtC);
  xAxisB(gR,x,455,462,R_monTickMin,R_monTickLab);
  txt(gR,614,357,'其它',{size:FS_A,anchor:'middle'});
  txt(gR,1081,357,'废气',{size:FS_A,anchor:'middle'});
  const t96=times(96,0,15), t48=times(48,0,30);
  const all=()=>true;
  series(gR,x,y2,t96,R_monGas,R_monColors[5],{w:0.5,op:0.3,mark:all,r:1,mfill:'#fbeef8',mstroke:'#e0a6d6'});
  series(gR,x,y,t96,R_monO2,R_monColors[3],{w:0.5,op:0.3,mark:all,r:1,mfill:'#efb4e4',mstroke:'#d77fc8'});
  series(gR,x,y,t48,R_monPm,R_monColors[0],{w:0.6,mark:all,r:0.9});
  series(gR,x,y,t96,R_monPmc,R_monColors[1],{w:0.9,mark:all,r:1,mfill:'#b8f0c0'});
  series(gR,x,y,t96,R_monSo2,R_monColors[2],{w:1,mark:all,r:1.1,mfill:'#fbf8c8'});
  series(gR,x,y,t96,R_monNox,R_monColors[4],{w:1,mark:all,r:1.1,mfill:'#d8fafc'});
}
</script>
</body></html>
